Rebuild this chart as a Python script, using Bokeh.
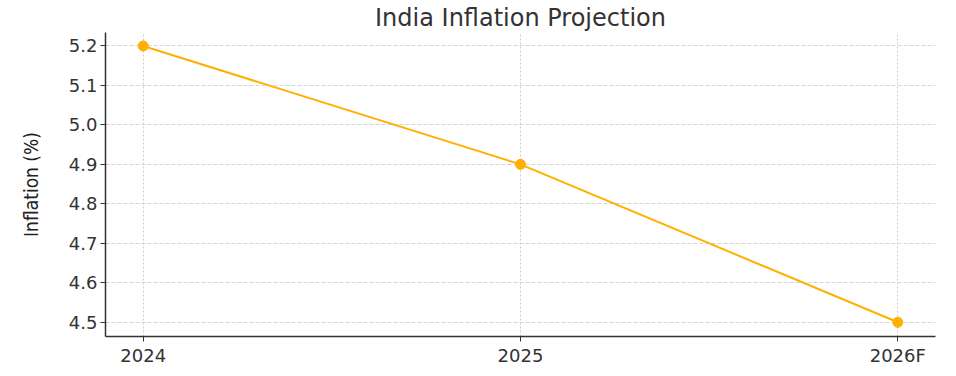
from bokeh.plotting import figure
from bokeh.models import FixedTicker, Range1d, NumeralTickFormatter
from bokeh.embed import file_html
from bokeh.resources import INLINE

years = ["2024", "2025", "2026F"]
inflation = [5.2, 4.9, 4.5]
y_ticks = [4.5, 4.6, 4.7, 4.8, 4.9, 5.0, 5.1, 5.2]

xs = list(range(len(years)))

p = figure(width=940, height=368, output_backend="svg", toolbar_location=None,
           title="India Inflation Projection",
           x_range=Range1d(-0.1, 2.1), y_range=Range1d(4.464, 5.234),
           min_border_left=105, min_border_right=5, min_border_top=10, min_border_bottom=25)

p.line(xs, inflation, line_color="#FFB000", line_width=2)
p.scatter(xs, inflation, size=10, fill_color="#FFB000", line_color="#FFB000")

p.title.align = "center"
p.title.text_font = "DejaVu Sans"
p.title.text_font_size = "24px"
p.title.text_font_style = "normal"
p.title.text_color = "#333333"
p.title.standoff = 2

p.xaxis.ticker = FixedTicker(ticks=xs)
p.xaxis.major_label_overrides = {i: y for i, y in enumerate(years)}
p.yaxis.ticker = FixedTicker(ticks=y_ticks)
p.yaxis.formatter = NumeralTickFormatter(format="0.0")
p.yaxis.axis_label = "Inflation (%)"
p.yaxis.axis_label_text_font = "DejaVu Sans Condensed"
p.yaxis.axis_label_text_font_size = "19px"
p.yaxis.axis_label_text_font_style = "normal"
p.yaxis.axis_label_text_color = "#222222"
p.yaxis.axis_label_standoff = 24

for ax in (p.xaxis, p.yaxis):
    ax.major_label_text_font = "DejaVu Sans"
    ax.major_label_text_font_size = "18px"
    ax.major_label_text_color = "#333333"
    ax.axis_line_color = "#333333"
    ax.axis_line_width = 1.5
    ax.major_tick_line_color = "#333333"
    ax.major_tick_in = 0
    ax.major_tick_out = 5
    ax.minor_tick_line_color = None
    ax.major_label_standoff = 3

p.xgrid.grid_line_color = "#cccccc"
p.xgrid.grid_line_dash = "2 2"
p.ygrid.grid_line_color = "#d5d5d5"
p.ygrid.grid_line_dash = "4 2"
p.outline_line_color = None

open("out.html", "w").write(file_html(p, INLINE))
